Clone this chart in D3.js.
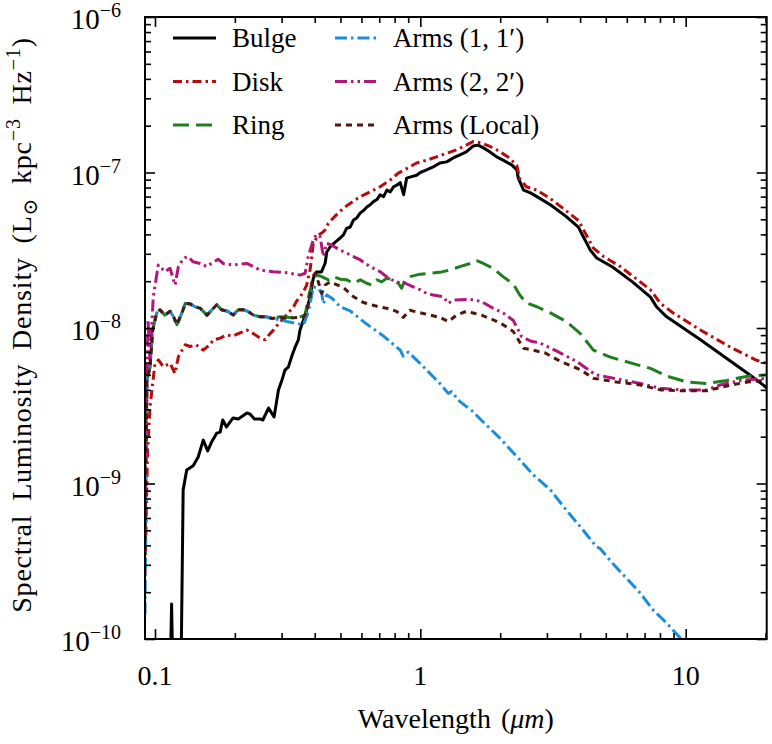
<!DOCTYPE html>
<html>
<head>
<meta charset="utf-8">
<script src="https://cdn.jsdelivr.net/npm/d3@7"></script>
<style>
	body { margin: 0; background: #fff; }
</style>
</head>
<body>
<svg id="chart" width="772" height="744"></svg>
<script>
'use strict' ;

// [ wavelength (micron), spectral luminosity density (L_sun kpc^-3 Hz^-1) ]
let bulge = [
	[0.112, 1e-11], [0.1155, 1.68e-10], [0.119, 1e-11], [0.1238, 1e-11], [0.1277, 9.1e-10],
	[0.1317, 1.22e-9], [0.1393, 1.30e-9], [0.1455, 1.48e-9], [0.152, 1.90e-9], [0.158, 1.62e-9],
	[0.1635, 1.85e-9], [0.171, 2.11e-9], [0.176, 2.14e-9], [0.180, 2.56e-9], [0.186, 2.31e-9],
	[0.197, 2.64e-9], [0.206, 2.60e-9], [0.222, 2.84e-9], [0.228, 2.80e-9], [0.237, 2.60e-9],
	[0.249, 2.60e-9], [0.255, 2.56e-9], [0.268, 3.06e-9], [0.281, 2.68e-9], [0.292, 3.99e-9],
	[0.301, 4.63e-9], [0.309, 5.37e-9], [0.318, 5.6e-9], [0.327, 6.5e-9], [0.337, 7.5e-9],
	[0.347, 8.4e-9], [0.352, 9.7e-9], [0.363, 1.13e-8], [0.373, 1.31e-8], [0.384, 1.58e-8],
	[0.395, 2.09e-8], [0.406, 2.29e-8], [0.424, 2.29e-8], [0.438, 2.62e-8], [0.444, 3.08e-8],
	[0.457, 3.32e-8], [0.478, 3.57e-8], [0.499, 3.79e-8], [0.513, 3.97e-8], [0.528, 4.39e-8],
	[0.544, 4.45e-8], [0.560, 4.95e-8], [0.576, 5.1e-8], [0.594, 5.5e-8], [0.611, 5.7e-8],
	[0.629, 6.0e-8], [0.647, 6.2e-8], [0.666, 6.5e-8], [0.686, 6.7e-8], [0.706, 7.2e-8],
	[0.727, 7.0e-8], [0.748, 7.7e-8], [0.770, 7.5e-8], [0.793, 8.1e-8], [0.816, 8.3e-8],
	[0.840, 8.6e-8], [0.865, 7.2e-8], [0.888, 9.2e-8], [0.927, 9.4e-8], [0.968, 9.6e-8],
	[1.0, 1.0e-7], [1.056, 1.04e-7], [1.118, 1.085e-7], [1.185, 1.15e-7], [1.256, 1.17e-7],
	[1.33, 1.24e-7], [1.41, 1.30e-7], [1.49, 1.355e-7], [1.58, 1.48e-7], [1.65, 1.50e-7],
	[1.73, 1.44e-7], [1.83, 1.355e-7], [1.94, 1.26e-7], [2.05, 1.20e-7], [2.21, 1.12e-7],
	[2.31, 1.04e-7], [2.34, 9.2e-8], [2.45, 7.7e-8], [2.60, 7.4e-8], [2.75, 7.0e-8],
	[3.09, 6.2e-8], [3.55, 5.2e-8], [3.94, 4.46e-8], [4.12, 3.85e-8], [4.37, 3.17e-8],
	[4.62, 2.82e-8], [5.3, 2.47e-8], [6.3, 1.98e-8], [7.37, 1.58e-8], [7.76, 1.37e-8],
	[8.48, 1.18e-8], [11.37, 8.4e-9], [15.0, 6.0e-9], [18.0, 4.8e-9], [20.3, 4.1e-9]
] ;

let disk = [
	[0.0917, 2.6e-10], [0.0938, 1.64e-9], [0.0958, 3.11e-9], [0.100, 5.93e-9], [0.103, 6.23e-9],
	[0.1075, 5.64e-9], [0.114, 5.93e-9], [0.119, 5.1e-9], [0.1225, 6.54e-9], [0.130, 7.8e-9],
	[0.1355, 7.6e-9], [0.143, 7.8e-9], [0.152, 7.2e-9], [0.161, 7.8e-9], [0.166, 8.4e-9],
	[0.176, 8.6e-9], [0.186, 9.0e-9], [0.197, 8.9e-9], [0.209, 9.3e-9], [0.222, 9.7e-9],
	[0.235, 9.2e-9], [0.249, 8.6e-9], [0.260, 8.4e-9], [0.2715, 9.2e-9], [0.284, 1.0e-8],
	[0.292, 1.07e-8], [0.305, 1.15e-8], [0.318, 1.25e-8], [0.333, 1.37e-8], [0.341, 1.48e-8],
	[0.352, 1.59e-8], [0.363, 1.71e-8], [0.373, 1.89e-8], [0.384, 2.36e-8], [0.390, 2.88e-8],
	[0.395, 3.5e-8], [0.413, 3.97e-8], [0.425, 4.08e-8], [0.438, 4.27e-8], [0.450, 4.71e-8],
	[0.475, 5.2e-8], [0.513, 5.9e-8], [0.556, 6.5e-8], [0.594, 7.0e-8], [0.647, 7.5e-8],
	[0.706, 8.1e-8], [0.770, 8.95e-8], [0.826, 9.9e-8], [0.888, 1.06e-7], [0.968, 1.15e-7],
	[1.056, 1.20e-7], [1.15, 1.26e-7], [1.256, 1.33e-7], [1.37, 1.40e-7], [1.49, 1.50e-7],
	[1.58, 1.58e-7], [1.70, 1.55e-7], [1.83, 1.47e-7], [2.0, 1.36e-7], [2.18, 1.23e-7],
	[2.31, 1.11e-7], [2.37, 9.1e-8], [2.51, 8.1e-8], [2.75, 7.7e-8], [3.09, 6.8e-8],
	[3.44, 5.9e-8], [3.95, 4.9e-8], [4.19, 4.06e-8], [4.49, 3.26e-8], [4.9, 2.88e-8],
	[5.68, 2.48e-8], [7.37, 1.76e-8], [8.03, 1.44e-8], [8.97, 1.25e-8], [11.37, 9.7e-9],
	[15.0, 7.4e-9], [18.5, 6.2e-9], [20.3, 5.9e-9]
] ;

let ring = [
	[0.0917, 1.22e-9], [0.0932, 4.6e-9], [0.0958, 5.6e-9], [0.098, 9.7e-9], [0.1015, 1.25e-8],
	[0.1044, 1.31e-8], [0.109, 1.21e-8], [0.114, 1.28e-8], [0.1175, 1.18e-8], [0.121, 1.05e-8],
	[0.127, 1.28e-8], [0.130, 1.44e-8], [0.1355, 1.43e-8], [0.1415, 1.37e-8], [0.148, 1.34e-8],
	[0.157, 1.21e-8], [0.166, 1.34e-8], [0.171, 1.41e-8], [0.178, 1.31e-8], [0.188, 1.28e-8],
	[0.197, 1.21e-8], [0.206, 1.31e-8], [0.215, 1.31e-8], [0.224, 1.28e-8], [0.235, 1.21e-8],
	[0.249, 1.18e-8], [0.262, 1.18e-8], [0.277, 1.15e-8], [0.296, 1.18e-8], [0.323, 1.17e-8],
	[0.352, 1.18e-8], [0.368, 1.21e-8], [0.379, 1.59e-8], [0.395, 2.09e-8], [0.406, 2.19e-8],
	[0.425, 2.14e-8], [0.45, 2.04e-8], [0.47, 2.14e-8], [0.499, 2.06e-8], [0.528, 2.04e-8],
	[0.56, 1.94e-8], [0.594, 2.04e-8], [0.628, 1.94e-8], [0.655, 1.89e-8], [0.686, 2.04e-8],
	[0.715, 1.98e-8], [0.746, 2.09e-8], [0.79, 2.04e-8], [0.826, 1.94e-8], [0.85, 1.80e-8],
	[0.875, 2.04e-8], [0.916, 2.14e-8], [1.0, 2.22e-8], [1.087, 2.25e-8], [1.185, 2.28e-8],
	[1.29, 2.36e-8], [1.41, 2.48e-8], [1.54, 2.60e-8], [1.63, 2.71e-8], [1.73, 2.60e-8],
	[1.88, 2.42e-8], [2.05, 2.14e-8], [2.24, 1.92e-8], [2.37, 1.63e-8], [2.51, 1.45e-8],
	[2.75, 1.37e-8], [3.09, 1.25e-8], [3.55, 1.10e-8], [4.01, 9.2e-9], [4.49, 7.2e-9],
	[5.2, 6.5e-9], [6.34, 5.9e-9], [7.37, 5.5e-9], [8.5, 4.9e-9], [10.1, 4.5e-9],
	[12.0, 4.4e-9], [14.3, 4.6e-9], [17.1, 4.9e-9], [20.3, 5.0e-9]
] ;

let arms1 = [
	[0.0917, 1.43e-10], [0.0932, 4.6e-9], [0.0958, 5.6e-9], [0.098, 9.7e-9], [0.1015, 1.25e-8],
	[0.1044, 1.31e-8], [0.109, 1.21e-8], [0.114, 1.28e-8], [0.1175, 1.18e-8], [0.121, 1.05e-8],
	[0.127, 1.28e-8], [0.130, 1.44e-8], [0.1355, 1.43e-8], [0.1415, 1.37e-8], [0.148, 1.34e-8],
	[0.157, 1.21e-8], [0.166, 1.34e-8], [0.171, 1.41e-8], [0.178, 1.31e-8], [0.188, 1.28e-8],
	[0.197, 1.21e-8], [0.206, 1.31e-8], [0.215, 1.31e-8], [0.224, 1.28e-8], [0.235, 1.21e-8],
	[0.249, 1.18e-8], [0.262, 1.18e-8], [0.277, 1.15e-8], [0.296, 1.13e-8], [0.314, 1.10e-8],
	[0.341, 1.07e-8], [0.363, 1.05e-8], [0.379, 1.28e-8], [0.395, 1.84e-8], [0.413, 1.80e-8],
	[0.425, 1.67e-8], [0.431, 1.43e-8], [0.444, 1.63e-8], [0.467, 1.54e-8], [0.499, 1.37e-8],
	[0.544, 1.29e-8], [0.628, 1.06e-8], [0.725, 8.9e-9], [0.84, 7.2e-9], [0.862, 6.6e-9],
	[0.90, 7.0e-9], [1.0, 5.9e-9], [1.185, 4.4e-9], [1.274, 3.8e-9], [1.31, 3.9e-9],
	[1.41, 3.36e-9], [1.58, 2.9e-9], [1.68, 2.6e-9], [2.0, 1.95e-9], [2.37, 1.42e-9],
	[2.66, 1.14e-9], [3.09, 9.1e-10], [3.55, 6.75e-10], [4.11, 5.0e-10], [4.62, 3.9e-10],
	[4.75, 3.83e-10], [5.3, 3.07e-10], [5.98, 2.46e-10], [6.75, 1.97e-10], [7.53, 1.54e-10],
	[8.5, 1.26e-10], [9.56, 1.01e-10], [11.37, 7.4e-11]
] ;

let arms2 = [
	[0.0917, 5.8e-10], [0.0941, 1.13e-8], [0.0958, 6.2e-9], [0.0985, 1.58e-8], [0.1029, 2.54e-8],
	[0.106, 2.42e-8], [0.109, 2.30e-8], [0.114, 2.42e-8], [0.119, 1.89e-8], [0.1225, 2.48e-8],
	[0.128, 2.81e-8], [0.1335, 2.88e-8], [0.139, 2.67e-8], [0.148, 2.60e-8], [0.157, 2.48e-8],
	[0.163, 2.6e-8], [0.173, 2.77e-8], [0.181, 2.6e-8], [0.197, 2.54e-8], [0.222, 2.6e-8],
	[0.235, 2.48e-8], [0.249, 2.36e-8], [0.279, 2.30e-8], [0.313, 2.27e-8], [0.352, 2.19e-8],
	[0.368, 2.25e-8], [0.378, 2.88e-8], [0.395, 3.68e-8], [0.406, 4.0e-8], [0.419, 3.87e-8],
	[0.431, 2.88e-8], [0.443, 3.5e-8], [0.462, 3.42e-8], [0.499, 3.17e-8], [0.544, 2.95e-8],
	[0.594, 2.74e-8], [0.647, 2.48e-8], [0.706, 2.30e-8], [0.746, 2.14e-8], [0.804, 1.98e-8],
	[0.877, 1.94e-8], [0.94, 1.84e-8], [1.0, 1.76e-8], [1.056, 1.67e-8], [1.118, 1.63e-8],
	[1.22, 1.59e-8], [1.274, 1.44e-8], [1.33, 1.51e-8], [1.54, 1.53e-8], [1.70, 1.48e-8],
	[1.88, 1.34e-8], [2.05, 1.25e-8], [2.24, 1.12e-8], [2.41, 8.8e-9], [2.60, 8.25e-9],
	[2.83, 8.0e-9], [3.27, 7.1e-9], [3.88, 6.1e-9], [4.57, 5.0e-9], [5.34, 4.75e-9],
	[6.75, 4.4e-9], [8.03, 4.1e-9], [9.56, 4.0e-9], [12.0, 4.0e-9], [13.5, 4.3e-9],
	[16.1, 4.6e-9], [20.3, 4.75e-9]
] ;

let armsLocal = [
	[0.0917, 4.3e-10], [0.0932, 4.6e-9], [0.0958, 5.6e-9], [0.098, 9.7e-9], [0.1015, 1.25e-8],
	[0.1044, 1.31e-8], [0.109, 1.21e-8], [0.114, 1.28e-8], [0.1175, 1.18e-8], [0.121, 1.05e-8],
	[0.127, 1.28e-8], [0.130, 1.44e-8], [0.1355, 1.43e-8], [0.1415, 1.37e-8], [0.148, 1.34e-8],
	[0.157, 1.21e-8], [0.166, 1.34e-8], [0.171, 1.41e-8], [0.178, 1.31e-8], [0.188, 1.28e-8],
	[0.197, 1.21e-8], [0.206, 1.31e-8], [0.215, 1.31e-8], [0.224, 1.28e-8], [0.235, 1.21e-8],
	[0.249, 1.18e-8], [0.262, 1.18e-8], [0.277, 1.15e-8], [0.296, 1.17e-8], [0.318, 1.15e-8],
	[0.341, 1.17e-8], [0.363, 1.17e-8], [0.373, 1.28e-8], [0.384, 1.59e-8], [0.393, 2.14e-8],
	[0.401, 2.25e-8], [0.413, 1.97e-8], [0.425, 1.67e-8], [0.438, 1.89e-8], [0.457, 1.98e-8],
	[0.513, 1.82e-8], [0.56, 1.59e-8], [0.61, 1.46e-8], [0.686, 1.38e-8], [0.746, 1.34e-8],
	[0.814, 1.28e-8], [0.862, 1.17e-8], [0.913, 1.30e-8], [1.025, 1.24e-8], [1.185, 1.17e-8],
	[1.274, 1.10e-8], [1.37, 1.21e-8], [1.49, 1.28e-8], [1.58, 1.25e-8], [1.70, 1.21e-8],
	[1.88, 1.13e-8], [2.05, 1.05e-8], [2.24, 9.5e-9], [2.34, 8.4e-9], [2.45, 7.4e-9],
	[2.66, 7.2e-9], [2.96, 6.9e-9], [3.37, 6.1e-9], [4.01, 5.4e-9], [4.49, 4.75e-9],
	[5.48, 4.5e-9], [6.75, 4.3e-9], [8.03, 4.0e-9], [9.56, 3.95e-9], [12.0, 3.95e-9],
	[14.3, 4.24e-9], [17.1, 4.5e-9], [20.3, 4.6e-9]
] ;

let seriesNames = [ 'Bulge', 'Disk', 'Ring', 'Arms (1, 1\u2032)', 'Arms (2, 2\u2032)', 'Arms (Local)' ] ;
let seriesData = [ bulge, disk, ring, arms1, arms2, armsLocal ] ;
let xDomain = [ 0.0917, 20.2 ] ;
let yDomain = [ 1e-10, 1e-6 ] ;
let xMajorTicks = [ 0.1, 1, 10 ] ;
let xTickLabels = [ '0.1', '1', '10' ] ;
let yMajorTicks = [ 1e-10, 1e-9, 1e-8, 1e-7, 1e-6 ] ;
let yTickExponents = [ '\u221210', '\u22129', '\u22128', '\u22127', '\u22126' ] ;

let geom = {
	width: 772,
	height: 744,
	margin: { top: 17, right: 5.3, bottom: 105, left: 145 },
	tick: { major: 10, minor: 6 },
	fontSize: 27,
	font: '"Liberation Serif", Tinos, "Times New Roman", Times, "Noto Serif", "DejaVu Serif", FreeSerif, "Nimbus Roman", "Nimbus Roman No9 L", C059, P052, "Latin Modern Roman", "CMU Serif", serif'
} ;
geom.plot = {
	left: geom.margin.left,
	right: geom.width - geom.margin.right,
	top: geom.margin.top,
	bottom: geom.height - geom.margin.bottom
} ;

let aes = [
	{ colour: '#000000', dash: null, width: 3 },
	{ colour: '#b80c0c', dash: '9,4,2.5,4', width: 3 },
	{ colour: '#1f7f1f', dash: '16,7', width: 3 },
	{ colour: '#1b8ddb', dash: '12,4,2.5,4', width: 3 },
	{ colour: '#b3157a', dash: '12,4,2.5,4,2.5,4', width: 3 },
	{ colour: '#52170b', dash: '6,5', width: 3 }
] ;

let svg = d3.select( '#chart' ) ;

let x = d3.scaleLog()
	.domain( xDomain )
	.range( [ geom.plot.left, geom.plot.right ] ) ;
let y = d3.scaleLog()
	.domain( yDomain )
	.range( [ geom.plot.bottom, geom.plot.top ] ) ;

let addText = function( sel ) {
	return sel.append( 'text' )
		.attr( 'font-family', geom.font )
		.attr( 'fill', '#000' ) ;
} ;

// clip curves to the frame
svg.append( 'defs' )
	.append( 'clipPath' )
	.attr( 'id', 'plot-clip' )
	.append( 'rect' )
	.attr( 'x', geom.plot.left )
	.attr( 'y', geom.plot.top )
	.attr( 'width', geom.plot.right - geom.plot.left )
	.attr( 'height', geom.plot.bottom - geom.plot.top ) ;

{
	let line = d3.line()
		.x( d => x( d[0] ))
		.y( d => y( d[1] )) ;
	svg.append( 'g' )
		.attr( 'clip-path', 'url(#plot-clip)' )
		.selectAll( 'path.series' )
		.data( seriesData )
		.enter()
		.append( 'path' )
		.attr( 'class', 'series' )
		.attr( 'd', line )
		.attr( 'fill', 'none' )
		.attr( 'stroke', ( d, i ) => aes[i].colour )
		.attr( 'stroke-width', ( d, i ) => aes[i].width )
		.attr( 'stroke-dasharray', ( d, i ) => aes[i].dash )
		.attr( 'stroke-linejoin', 'round' ) ;
}

// ticks point inward on all four sides
{
	let xMinor = x.ticks().filter( t => !xMajorTicks.some( m => Math.abs( m - t ) / m < 1e-6 )) ;
	let yMinor = y.ticks().filter( t => !yMajorTicks.some( m => Math.abs( m - t ) / m < 1e-6 )) ;
	let addAxis = function( axis, tx, ty ) {
		let g = svg.append( 'g' )
			.attr( 'transform', 'translate(' + tx + ',' + ty + ')' )
			.call( axis.tickSizeOuter( 0 ).tickFormat( '' )) ;
		g.select( '.domain' ).remove() ;
		g.selectAll( 'line' ).attr( 'stroke', '#000' ).attr( 'stroke-width', 1.6 ) ;
	} ;
	[ [ xMajorTicks, geom.tick.major ], [ xMinor, geom.tick.minor ] ].forEach( ([ v, s ]) => {
		addAxis( d3.axisBottom( x ).tickValues( v ).tickSizeInner( -s ), 0, geom.plot.bottom ) ;
		addAxis( d3.axisTop( x ).tickValues( v ).tickSizeInner( -s ), 0, geom.plot.top ) ;
	}) ;
	[ [ yMajorTicks, geom.tick.major ], [ yMinor, geom.tick.minor ] ].forEach( ([ v, s ]) => {
		addAxis( d3.axisLeft( y ).tickValues( v ).tickSizeInner( -s ), geom.plot.left, 0 ) ;
		addAxis( d3.axisRight( y ).tickValues( v ).tickSizeInner( -s ), geom.plot.right, 0 ) ;
	}) ;

	svg.append( 'rect' )
		.attr( 'x', geom.plot.left )
		.attr( 'y', geom.plot.top )
		.attr( 'width', geom.plot.right - geom.plot.left )
		.attr( 'height', geom.plot.bottom - geom.plot.top )
		.attr( 'fill', 'none' )
		.attr( 'stroke', '#000' )
		.attr( 'stroke-width', 2 ) ;
}

// tick labels
{
	xMajorTicks.forEach( ( d, i ) => {
		addText( svg )
			.attr( 'x', x( d ))
			.attr( 'y', geom.plot.bottom + 46 )
			.attr( 'text-anchor', 'middle' )
			.attr( 'font-size', geom.fontSize + 1 )
			.text( xTickLabels[i] ) ;
	}) ;

	yMajorTicks.forEach( ( d, i ) => {
		let t = addText( svg )
			.attr( 'x', geom.plot.left - 24 )
			.attr( 'y', y( d ) + 12 )
			.attr( 'text-anchor', 'end' )
			.attr( 'font-size', geom.fontSize + 2 ) ;
		t.append( 'tspan' ).text( '10' ) ;
		t.append( 'tspan' )
			.attr( 'dy', -12 )
			.attr( 'font-size', 20 )
			.text( yTickExponents[i] ) ;
	}) ;
}

// axis titles
{
	let xt = addText( svg )
		.attr( 'x', ( geom.plot.left + geom.plot.right ) / 2 )
		.attr( 'y', 728 )
		.attr( 'text-anchor', 'middle' )
		.attr( 'font-size', geom.fontSize + 1 )
		.attr( 'word-spacing', 3 ) ;
	xt.append( 'tspan' ).text( 'Wavelength (' ) ;
	xt.append( 'tspan' ).attr( 'font-style', 'italic' ).text( '\u03bcm' ) ;
	xt.append( 'tspan' ).text( ')' ) ;

	let cy = ( geom.plot.top + geom.plot.bottom ) / 2 - 3 ;
	let yt = addText( svg )
		.attr( 'transform', 'translate(31,' + cy + ') rotate(-90)' )
		.attr( 'text-anchor', 'middle' )
		.attr( 'font-size', geom.fontSize + 1 )
		.attr( 'word-spacing', 6 )
		.attr( 'letter-spacing', 0.8 ) ;
	yt.append( 'tspan' ).text( 'Spectral Luminosity Density (L' ) ;
	yt.append( 'tspan' ).attr( 'dy', 6 ).attr( 'font-size', 20 ).text( '\u2299' ) ;
	yt.append( 'tspan' ).attr( 'dy', -6 ).text( ' kpc' ) ;
	yt.append( 'tspan' ).attr( 'dy', -11 ).attr( 'font-size', 20 ).text( '\u22123' ) ;
	yt.append( 'tspan' ).attr( 'dy', 11 ).text( ' Hz' ) ;
	yt.append( 'tspan' ).attr( 'dy', -11 ).attr( 'font-size', 20 ).text( '\u22121' ) ;
	yt.append( 'tspan' ).attr( 'dy', 11 ).text( ')' ) ;
}

// legend, two columns of three
{
	let cols = [ { x0: 173, x1: 216, tx: 232 }, { x0: 335, x1: 378, tx: 393 } ] ;
	let rowY = i => 38 + 43.5 * i ;
	seriesNames.forEach( ( name, i ) => {
		let col = cols[Math.floor( i / 3 )] ;
		let g = svg.append( 'g' )
			.attr( 'transform', 'translate(0,' + rowY( i % 3 ) + ')' ) ;
		g.append( 'line' )
			.attr( 'x1', col.x0 )
			.attr( 'x2', col.x1 )
			.attr( 'y1', 0 )
			.attr( 'y2', 0 )
			.attr( 'stroke', aes[i].colour )
			.attr( 'stroke-width', aes[i].width )
			.attr( 'stroke-dasharray', aes[i].dash ) ;
		addText( g )
			.attr( 'x', col.tx )
			.attr( 'y', 9 )
			.attr( 'font-size', geom.fontSize )
			.text( name ) ;
	}) ;
}
</script>
</body>
</html>
